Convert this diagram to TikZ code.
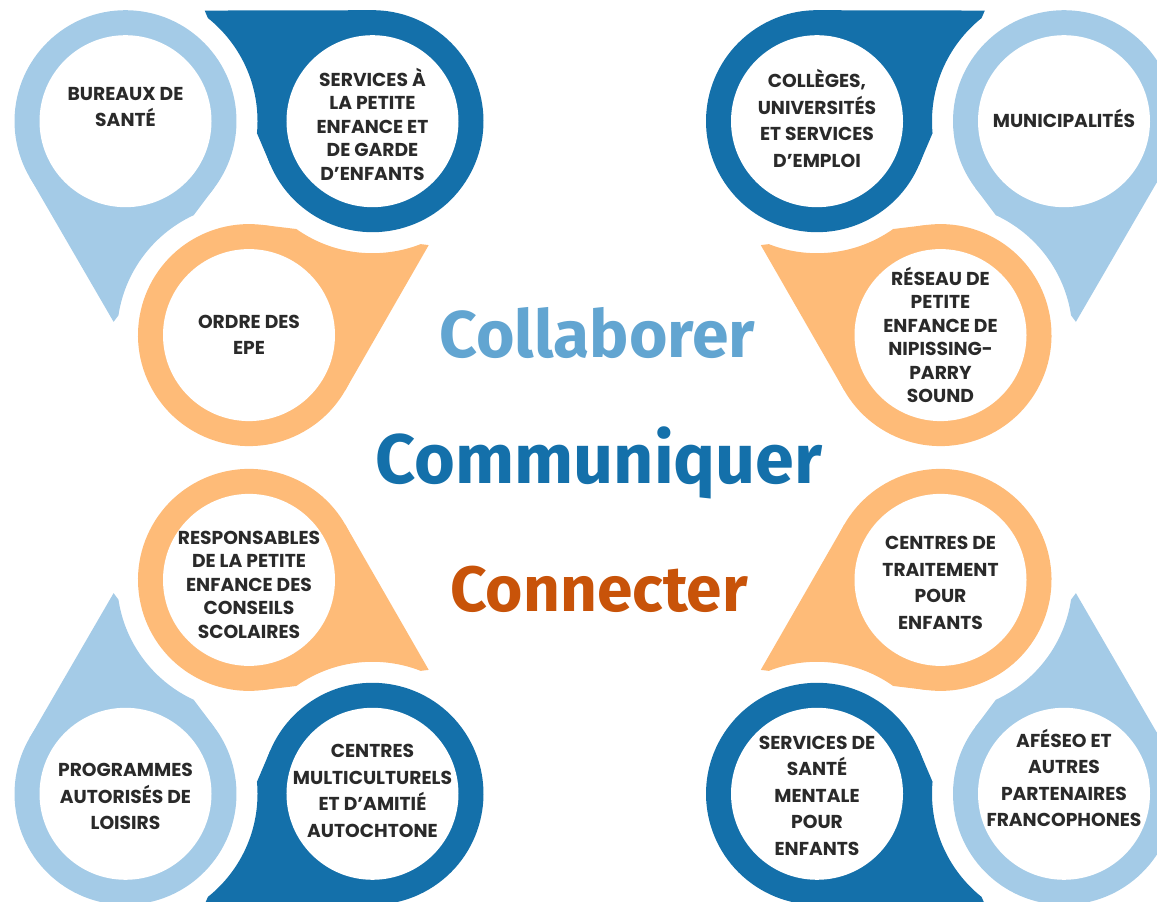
\documentclass[tikz,border=0pt]{standalone}
\usepackage{fontspec}
\setmainfont{Poppins}
\newfontfamily\wordfont{Fira Sans}
\usepackage{tikz}

\definecolor{pinLight}{HTML}{A4CBE7}
\definecolor{pinDark}{HTML}{1470AA}
\definecolor{pinOrange}{HTML}{FEBB78}
\definecolor{wordLight}{HTML}{62A5D1}
\definecolor{wordDark}{HTML}{1470AA}
\definecolor{wordOrange}{HTML}{C85309}
\definecolor{labelInk}{HTML}{2A2A2A}

\tikzset{
    lbl/.style={text=labelInk, align=center, font=\bfseries\fontsize{18.7}{26.5}\selectfont},
    lbltight/.style={lbl, font=\bfseries\fontsize{18.7}{23.5}\selectfont},
    word/.style={anchor=base, font=\wordfont\bfseries\fontsize{#1}{#1}\selectfont}
}

% number / group centre / place in group / tail direction / colour
\newcommand{\pinlist}{
    1/249/709.5/150/266.6/pinLight, 2/249/709.5/30/146.6/pinDark, 3/249/709.5/270/26.6/pinOrange,
    4/940.5/709.5/150/33.4/pinDark, 5/940.5/709.5/30/273.4/pinLight, 6/940.5/709.5/270/153.4/pinOrange,
    7/249/179.5/90/333.4/pinOrange, 8/249/179.5/210/93.4/pinLight, 9/249/179.5/330/213.4/pinDark,
    10/940.5/179.5/90/206.6/pinOrange, 11/940.5/179.5/210/326.6/pinDark, 12/940.5/179.5/330/86.6/pinLight}

\begin{document}
\begin{tikzpicture}[x=1pt, y=1pt]
    \useasboundingbox (0,0) rectangle (1157,902);
    \clip (0,0) rectangle (1157,902);

    \foreach \n/\gx/\gy/\pa/\td/\col in \pinlist
        \coordinate (p\n) at ([shift={(\pa:142.6)}]\gx,\gy);

    % pins, each one cut by the white margin round the other circles
    \foreach \n/\gx/\gy/\pa/\td/\col in \pinlist {
        \begin{scope}[even odd rule]
            \clip (0,0) rectangle (1157,902)
                foreach \m in {1,...,12} {(p\m) circle[radius={(\m==\n) ? 0.01 : 132}]};
            \begin{scope}[shift={(p\n)}, rotate=\td, nonzero rule]
                \fill[\col] (0,0) circle[radius=111];
                \fill[\col] (-56.5:111) -- (201,0) -- (56.5:111) -- cycle;
            \end{scope}
            \fill[white] (p\n) circle[radius=86];
        \end{scope}
    }

    \node[lbl] (bureaux) at ([yshift=14pt]p1) {BUREAUX DE\\SANTÉ};
    \node[lbltight] (garde) at ([yshift=-3pt]p2) {SERVICES À\\LA PETITE\\ENFANCE ET\\DE GARDE\\D’ENFANTS};
    \node[lbl] (ordre) at (p3) {ORDRE DES\\EPE};
    \node[lbl] (colleges) at ([yshift=3pt]p4) {COLLÈGES,\\UNIVERSITÉS\\ET SERVICES\\D’EMPLOI};
    \node[lbl] (municipalites) at ([yshift=3pt]p5) {MUNICIPALITÉS};
    \node[lbltight] (reseau) at (p6) {RÉSEAU DE\\PETITE\\ENFANCE DE\\NIPISSING-\\PARRY\\SOUND};
    \node[lbltight] (responsables) at ([yshift=-5pt]p7) {RESPONSABLES\\DE LA PETITE\\ENFANCE DES\\CONSEILS\\SCOLAIRES};
    \node[lbl] (programmes) at ([yshift=-3pt]p8) {PROGRAMMES\\AUTORISÉS DE\\LOISIRS};
    \node[lbl] (multiculturels) at ([yshift=3pt]p9) {CENTRES\\MULTICULTURELS\\ET D’AMITIÉ\\AUTOCHTONE};
    \node[lbl] (traitement) at ([yshift=-3pt]p10) {CENTRES DE\\TRAITEMENT\\POUR\\ENFANTS};
    \node[lbl] (mentale) at ([yshift=-2pt]p11) {SERVICES DE\\SANTÉ\\MENTALE\\POUR\\ENFANTS};
    \node[lbl] (afeseo) at ([yshift=16pt]p12) {AFÉSEO ET\\AUTRES\\PARTENAIRES\\FRANCOPHONES};

    \node[word=66, text=wordLight] (collaborer) at (597.4,544) {Collaborer};
    \node[word=70, text=wordDark] (communiquer) at (599,418) {Communiquer};
    \node[word=64, text=wordOrange] (connecter) at (599,290) {Connecter};
\end{tikzpicture}
\end{document}
